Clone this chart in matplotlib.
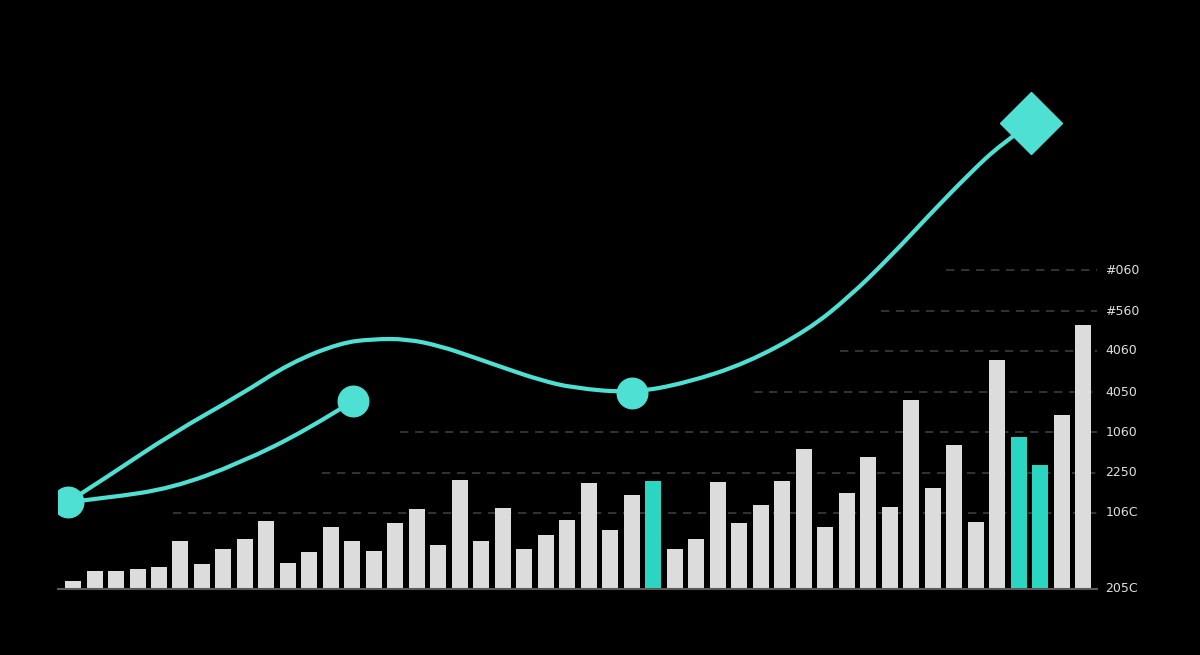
import matplotlib.pyplot as plt
from matplotlib.path import Path
from matplotlib.patches import PathPatch

# bar heights, left to right (baseline = 0)
bar_values = [8, 18, 18, 20, 22, 48, 25, 40, 50, 68, 26, 37, 62, 48, 38, 66,
              80, 44, 109, 48, 81, 40, 54, 69, 106, 59, 94, 108, 40, 50, 107, 66,
              84, 108, 140, 62, 96, 132, 82, 189, 101, 144, 67, 229, 152, 124, 174, 264]
highlight = [27, 44, 45]   # teal bars (0-based)

# upper trend curve (x in bar index units, y in bar units)
main_x = [-0.23, 1.58, 4.65, 7.77, 10.10, 12.42, 13.96, 15.54, 17.08, 18.61, 20.20,
          21.73, 23.27, 26.01, 28.52, 31.36, 34.20, 36.11, 38.02, 39.93, 41.79, 43.14, 44.58]
main_y = [87, 112, 156, 194, 226, 246, 250, 250, 243, 232, 220,
          209, 201, 196, 206, 226, 259, 292, 332, 376, 417, 444, 466]
mid_dot = 13

# lower branch
low_x = [-0.23, 1.58, 4.65, 7.77, 10.89, 13.03]
low_y = [87, 91, 101, 126, 159, 188]

# right-hand labels and their levels
tick_vals = [319, 278, 238, 197, 157, 116, 76, 0]
tick_labels = ['#060', '#560', '4060', '4050', '1060', '2250', '106C', '205C']
grid_start = [40.6, 37.6, 35.7, 31.7, 15.2, 11.6, 4.65]

line_col = '#4ee0d2'
teal = '#2ad6c2'
gray = '#dcdcdc'


def smooth_path(xs, ys):
    # quadratic b-spline through midpoints
    verts = [(xs[0], ys[0])]
    codes = [Path.MOVETO]
    for i in range(1, len(xs) - 1):
        mx = (xs[i] + xs[i + 1]) / 2
        my = (ys[i] + ys[i + 1]) / 2
        if i == len(xs) - 2:
            mx, my = xs[-1], ys[-1]
        verts += [(xs[i], ys[i]), (mx, my)]
        codes += [Path.CURVE3, Path.CURVE3]
    return Path(verts, codes)


fig = plt.figure(figsize=(12, 6.55), dpi=100, facecolor='black')
ax = fig.add_axes([58 / 1200, 66 / 655, 1039 / 1200, 569 / 655])
ax.set_facecolor('black')
ax.set_xlim(-0.70, 47.65)
ax.set_ylim(0, 569)

colors = [teal if i in highlight else gray for i in range(len(bar_values))]
ax.bar(range(len(bar_values)), bar_values, width=0.745, color=colors, zorder=2)

# faint dashed guides
for v, xs in zip(tick_vals[:-1], grid_start):
    ax.hlines(v, xs, 47.65, colors='#3c3c3c', linestyles=(0, (5, 4)), lw=1.2, zorder=1)

for v, lab in zip(tick_vals, tick_labels):
    ax.text(1.008, v, lab, transform=ax.get_yaxis_transform(), color='#e0e0e0',
            fontsize=9, va='center', ha='left')

ax.add_patch(PathPatch(smooth_path(main_x, main_y), fill=False, ec=line_col, lw=3, zorder=3,
                       capstyle='round'))
ax.add_patch(PathPatch(smooth_path(low_x, low_y), fill=False, ec=line_col, lw=3, zorder=3,
                       capstyle='round'))

ax.plot([main_x[0]], [main_y[0]], 'o', ms=22, color=line_col, zorder=4)
ax.plot([low_x[-1]], [low_y[-1]], 'o', ms=22, color=line_col, zorder=4)
ax.plot([main_x[mid_dot]], [main_y[mid_dot]], 'o', ms=22, color=line_col, zorder=4)
ax.plot([main_x[-1]], [main_y[-1]], 'D', ms=32, color=line_col, zorder=4)

for s in ['top', 'left', 'right']:
    ax.spines[s].set_visible(False)
ax.spines['bottom'].set_color('#5a5a5a')
ax.spines['bottom'].set_linewidth(1.5)
ax.set_xticks([])
ax.set_yticks([])

fig.savefig('out.png', dpi=100, facecolor='black')
